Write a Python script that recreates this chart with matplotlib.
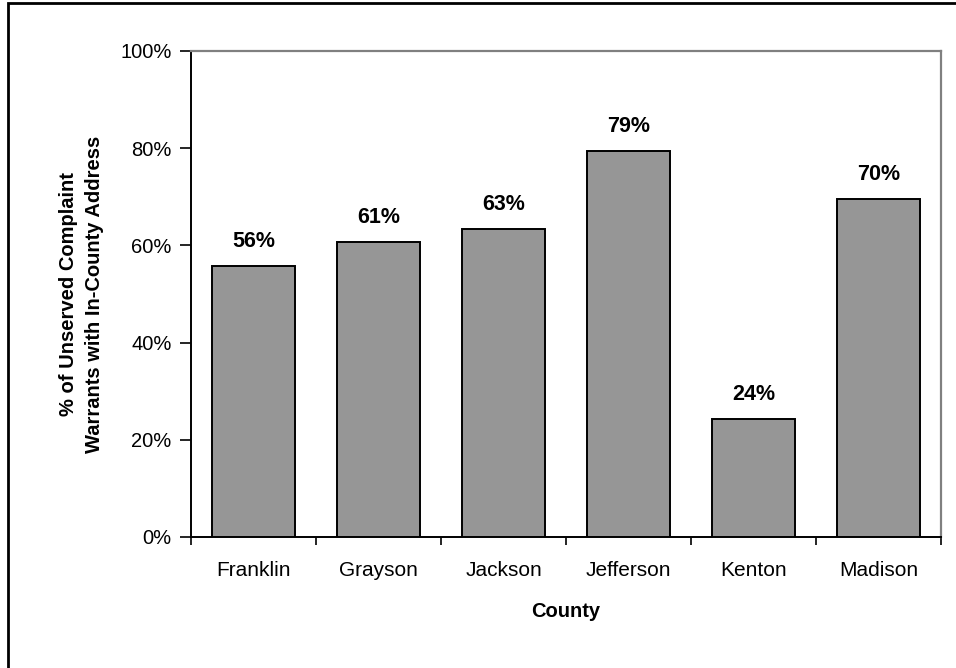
import matplotlib
matplotlib.use("Agg")
import matplotlib.pyplot as plt
from matplotlib.patches import Rectangle
from matplotlib.ticker import FixedLocator, PercentFormatter

plt.rcParams['font.family'] = ['Liberation Sans', 'DejaVu Sans']

counties = ["Franklin", "Grayson", "Jackson", "Jefferson", "Kenton", "Madison"]
pct_unserved = [0.558, 0.607, 0.634, 0.794, 0.243, 0.696]
y_ticks = [0.0, 0.2, 0.4, 0.6, 0.8, 1.0]

W, H = 956, 668
fig = plt.figure(figsize=(W / 100, H / 100), dpi=100)

# plot area in pixel coordinates
left, right, top, bottom = 191, 941, 51, 537
ax = fig.add_axes([left / W, 1 - bottom / H, (right - left) / W, (bottom - top) / H])

# frame around the whole chart
fig.patches.append(Rectangle((8 / W, -0.05), 1.2, 1 - 3 / H + 0.05,
                             transform=fig.transFigure, fill=False,
                             edgecolor='black', linewidth=2.0))

x = list(range(len(counties)))
bars = ax.bar(x, pct_unserved, width=0.67, color='#969696',
              edgecolor='black', linewidth=1.4, zorder=3)

for xi, v in zip(x, pct_unserved):
    ax.annotate(f"{v * 100:.0f}%", (xi, v), xytext=(0, 10),
                textcoords='offset points', ha='center', va='bottom',
                fontsize=15.5, fontweight='bold')

ax.set_xlim(-0.5, len(counties) - 0.5)
ax.set_ylim(0, 1.0)
ax.set_yticks(y_ticks)
ax.yaxis.set_major_formatter(PercentFormatter(1.0, decimals=0))

ax.set_xticks(x)
ax.set_xticklabels(counties, fontsize=15)
ax.xaxis.set_minor_locator(FixedLocator([i - 0.5 for i in range(len(counties) + 1)]))
ax.tick_params(axis='x', which='major', length=0, pad=17)
ax.tick_params(axis='x', which='minor', length=6, width=1.2, direction='out')
ax.tick_params(axis='y', length=8, width=1.2, direction='out', labelsize=14.5, pad=6)

for s in ['left', 'bottom']:
    ax.spines[s].set_color('black')
    ax.spines[s].set_linewidth(1.4)
for s in ['top', 'right']:
    ax.spines[s].set_color('#808080')
    ax.spines[s].set_linewidth(1.6)

ax.set_xlabel("County", fontsize=14.5, fontweight='bold', labelpad=16)
ax.set_ylabel("% of Unserved Complaint\nWarrants with In-County Address",
              fontsize=14.5, fontweight='bold', labelpad=12, linespacing=1.45)

fig.savefig("out.png", dpi=100)
